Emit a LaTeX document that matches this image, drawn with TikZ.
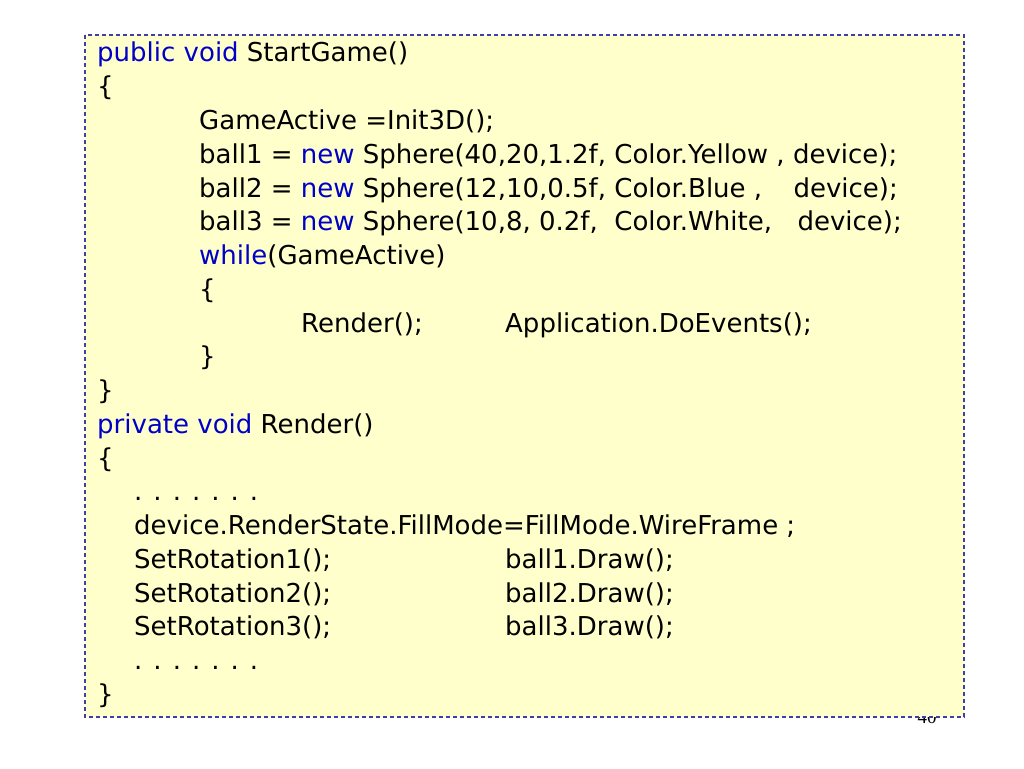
\documentclass[tikz,border=0pt]{standalone}
\usepackage{fontspec}
\newfontfamily\codefont{DejaVu Sans}
\newfontfamily\numfont{Liberation Serif}
\definecolor{boxfill}{HTML}{FFFFCC}
\definecolor{boxline}{HTML}{4040A0}
\definecolor{kw}{HTML}{0000C8}
\begin{document}
\begin{tikzpicture}[x=1pt,y=-1pt,
  code/.style={anchor=base west,inner sep=0pt,font=\codefont\fontsize{26}{30}\selectfont,text=black},
  codeR/.style={code,anchor=base east}]
\useasboundingbox (0,0) rectangle (1024,768);
\node[anchor=base,inner sep=0pt,font=\numfont\fontsize{19}{22}\selectfont] (pg) at (927,723) {40};
\draw[boxline,fill=boxfill,line width=1.1pt,dash pattern=on 4pt off 3pt] (85,35) rectangle (964,717);
\def\L#1{62+#1*33.75}
\node[code] (l1) at (97,{\L{0}}) {\textcolor{kw}{public void} StartGame()};
\node[code] (l2) at (97,{\L{1}}) {\{};
\node[code] (l3) at (199,{\L{2}}) {GameActive =Init3D();};
\node[code] (l4) at (199,{\L{3}}) {ball1 = \textcolor{kw}{new} Sphere(40,20,1.2f, Color.Yellow , device);};
\node[code] (l5) at (199,{\L{4}}) {ball2 = \textcolor{kw}{new} Sphere(12,10,0.5f, Color.Blue ,};
\node[codeR] (l5b) at (898,{\L{4}}) {device);};
\node[code] (l6) at (199,{\L{5}}) {ball3 = \textcolor{kw}{new} Sphere(10,8, 0.2f,\ \ Color.White,};
\node[codeR] (l6b) at (902,{\L{5}}) {device);};
\node[code] (l7) at (199,{\L{6}}) {\textcolor{kw}{while}(GameActive)};
\node[code] (l8) at (199,{\L{7}}) {\{};
\node[code] (l9) at (301,{\L{8}}) {Render();};
\node[code] (l9b) at (505,{\L{8}}) {Application.DoEvents();};
\node[code] (l10) at (199,{\L{9}}) {\}};
\node[code] (l11) at (97,{\L{10}}) {\}};
\node[code] (l12) at (97,{\L{11}}) {\textcolor{kw}{private void} Render()};
\node[code] (l13) at (97,{\L{12}}) {\{};
\node[code] (l14) at (134,{\L{13}}) {. . . . . . .};
\node[code] (l15) at (134,{\L{14}}) {device.RenderState.FillMode=FillMode.WireFrame ;};
\node[code] (l16) at (134,{\L{15}}) {SetRotation1();};
\node[code] (l16b) at (505,{\L{15}}) {ball1.Draw();};
\node[code] (l17) at (134,{\L{16}}) {SetRotation2();};
\node[code] (l17b) at (505,{\L{16}}) {ball2.Draw();};
\node[code] (l18) at (134,{\L{17}}) {SetRotation3();};
\node[code] (l18b) at (505,{\L{17}}) {ball3.Draw();};
\node[code] (l19) at (134,{\L{18}}) {. . . . . . .};
\node[code] (l20) at (97,{\L{19}}) {\}};
\end{tikzpicture}
\end{document}
